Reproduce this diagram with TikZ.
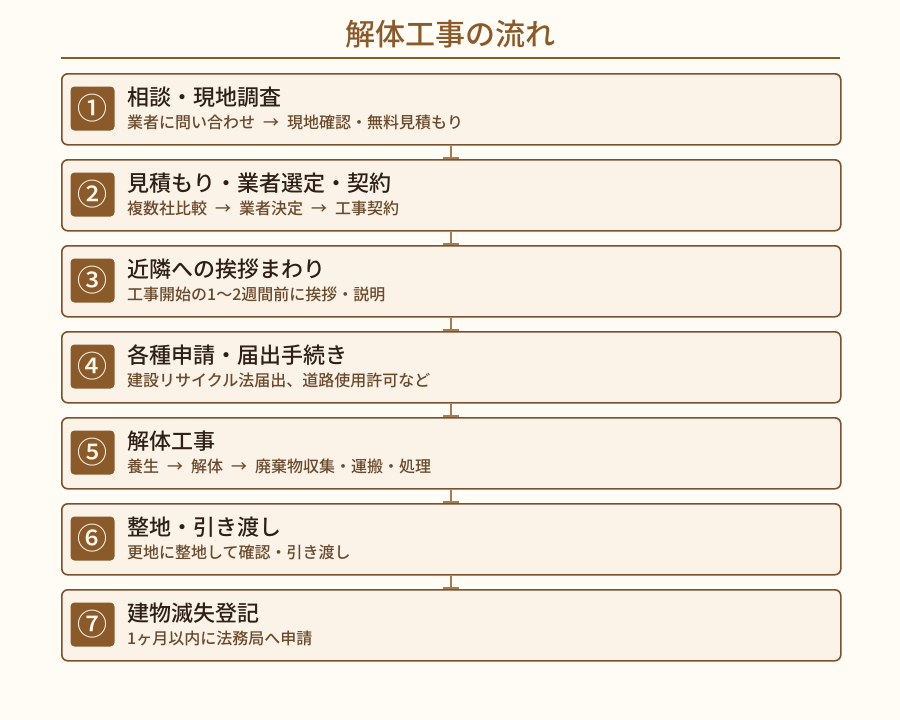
\documentclass[tikz,border=0pt]{standalone}
\usepackage{fontspec}
\usetikzlibrary{arrows.meta}
\newfontfamily\jp{Noto Sans CJK JP}
\newfontfamily\jpm{Noto Sans CJK JP Medium}
\definecolor{bgc}{HTML}{FFFCF6}
\definecolor{boxfill}{HTML}{FBF2E8}
\definecolor{brown}{HTML}{8B5A2B}
\definecolor{border}{HTML}{7A5230}
\definecolor{conn}{HTML}{A57D55}
\definecolor{headc}{HTML}{2E2016}
\definecolor{subc}{HTML}{6A4A2C}
\definecolor{numc}{HTML}{FFF6EA}
\newcommand\arw{\hspace{8pt}→\hspace{8pt}}
\tikzset{
  stepbox/.style={draw=border, line width=1.6pt, fill=boxfill, rounded corners=6pt,
    minimum width=779pt, minimum height=71pt, inner sep=0pt, anchor=north west},
  badge/.style={fill=brown, rounded corners=4pt, minimum width=44pt, minimum height=44pt,
    inner sep=0pt, text=numc, font=\jpm\fontsize{30}{32}\selectfont},
  headtext/.style={anchor=west, inner sep=0pt, text=headc, font=\jpm\fontsize{22}{25}\selectfont},
  subtext/.style={anchor=west, inner sep=0pt, text=subc, font=\jpm\fontsize{16}{19}\selectfont},
  connector/.style={draw=conn, line width=2pt, -{Bar[width=16pt]}},
  titletext/.style={inner sep=0pt, text=brown, font=\jpm\fontsize{30}{32}\selectfont}
}
\begin{document}
\begin{tikzpicture}[x=1pt,y=-1pt]
\fill[bgc] (0,0) rectangle (900,720);
\useasboundingbox (0,0) rectangle (900,720);
\node[titletext] (title) at (450,34) {解体工事の流れ};
\coordinate (tl) at (61,58);
\coordinate (tr) at (840,58);
\draw[brown, line width=1.8pt] (tl) -- (tr);
\foreach \i/\num/\head/\sub in {
  1/①/相談・現地調査/業者に問い合わせ\arw 現地確認・無料見積もり,
  2/②/見積もり・業者選定・契約/複数社比較\arw 業者決定\arw 工事契約,
  3/③/近隣への挨拶まわり/工事開始の1～2週間前に挨拶・説明,
  4/④/各種申請・届出手続き/建設リサイクル法届出、道路使用許可など,
  5/⑤/解体工事/養生\arw 解体\arw 廃棄物収集・運搬・処理,
  6/⑥/整地・引き渡し/更地に整地して確認・引き渡し,
  7/⑦/建物滅失登記/1ヶ月以内に法務局へ申請}{
  \pgfmathsetmacro{\top}{73+86*(\i-1)}
  \node[stepbox] (s\i) at (61,\top) {};
  \node[badge] (b\i) at (92.5,\top+35.5) {\num};
  \node[headtext] (h\i) at (127,\top+24) {\head};
  \node[subtext] (t\i) at (127,\top+49) {\sub};
}
\foreach \i [evaluate=\i as \j using int(\i+1)] in {1,...,6}{
  \draw[connector] (s\i.south) -- (s\j.north);
}
\end{tikzpicture}
\end{document}
